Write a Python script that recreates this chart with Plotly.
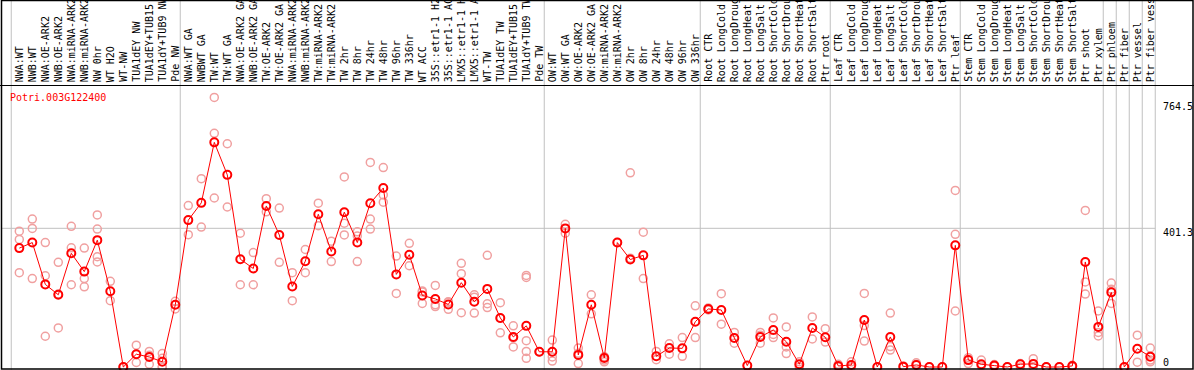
import plotly.graph_objects as go

categories = [
    "NWA:WT", "NWB:WT", "NWA:OE-ARK2", "NWB:OE-ARK2", "NWA:miRNA-ARK2", "NWB:miRNA-ARK2",
    "NW 0hr", "WT H2O", "WT-NW", "TUA1dEY NW", "TUA1dEY+TUB15", "TUA1dY+TUB9 NW", "Pde NW",
    "NWA:WT GA", "NWBWT GA", "TW:WT", "TW:WT GA", "NWA:OE-ARK2 GA", "NWB:OE-ARK2 GA",
    "TW:OE-ARK2", "TW:OE-ARK2 GA", "NWA:miRNA-ARK2", "NWB:miRNA-ARK2", "TW:miRNA-ARK2",
    "TW:miRNA-ARK2", "TW 2hr", "TW 8hr", "TW 24hr", "TW 48hr", "TW 96hr", "TW 336hr",
    "WT ACC", "35S::etr1-1 H2", "35S::etr1-1 AC", "LMX5::etr1-1 H", "LMX5::etr1-1 A",
    "WT-TW", "TUA1dEY TW", "TUA1dEY+TUB15", "TUA1dY+TUB9 TW", "Pde TW",
    "OW:WT", "OW:WT GA", "OW:OE-ARK2", "OW:OE-ARK2 GA", "OW:miRNA-ARK2", "OW:miRNA-ARK2",
    "OW 2hr", "OW 8hr", "OW 24hr", "OW 48hr", "OW 96hr", "OW 336hr",
    "Root CTR", "Root LongCold", "Root LongDroug", "Root LongHeat", "Root LongSalt",
    "Root ShortCold", "Root ShortDrou", "Root ShortHeat", "Root ShortSalt", "Ptr root",
    "Leaf CTR", "Leaf LongCold", "Leaf LongDroug", "Leaf LongHeat", "Leaf LongSalt",
    "Leaf ShortCold", "Leaf ShortDrou", "Leaf ShortHeat", "Leaf ShortSalt", "Ptr leaf",
    "Stem CTR", "Stem LongCold", "Stem LongDroug", "Stem LongHeat", "Stem LongSalt",
    "Stem ShortCold", "Stem ShortDrou", "Stem ShortHeat", "Stem ShortSalt",
    "Ptr shoot", "Ptr xylem", "Ptr phloem", "Ptr fiber", "Ptr vessel", "Ptr fiber vess",
]

means = [
    344, 360, 239, 209, 329, 276, 367, 219, 0, 37,
    29, 15, 180, 425, 475, 650, 556, 312, 285, 466,
    382, 233, 306, 442, 334, 448, 360, 474, 518, 268,
    325, 207, 197, 181, 244, 189, 226, 142, 87, 119,
    44, 44, 401, 35, 180, 26, 360, 311, 323, 31,
    55, 54, 131, 168, 165, 84, 4, 87, 107, 73,
    8, 113, 86, 3, 6, 136, 0, 87, 1, 6,
    0, 0, 352, 20, 8, 4, 0, 8, 9, 0,
    0, 3, 304, 116, 216, 0, 53, 30,
]

replicates = [
    [393, 369, 273], [428, 401, 256], [360, 264, 89], [303, 113, 211], [407, 345, 238],
    [344, 256, 232], [440, 399, 319, 304], [248, 192], [0, 0], [63, 13, 37],
    [45, 8, 34], [39, 25, 0, 0], [190, 168], [467, 383], [545, 405],
    [780, 676, 489], [646, 463], [387, 238], [331, 238], [487, 449],
    [460, 303], [273, 192], [340, 273], [474, 409], [364, 305],
    [550, 416, 382], [391, 379, 305], [592, 428, 399], [577, 498, 477], [321, 213],
    [358, 293], [217, 184, 220], [236, 180, 175], [187, 167, 189], [300, 270, 157],
    [209, 156, 202], [323, 183, 172], [186, 99, 141], [119, 58, 84], [265, 259, 76, 45, 25],
    [44, 44], [78, 29, 17], [413, 387], [55, 10, 40], [209, 154],
    [20, 15, 30], [360], [562, 315], [390, 256], [45, 21],
    [67, 37], [85, 31], [177, 85], [171, 165], [212, 124],
    [100, 69], [4], [92, 69, 100], [142, 85, 94], [116, 58, 39],
    [15, 0], [145, 81], [111, 72], [8, 0], [15, 0],
    [213, 75, 120], [0], [156, 59, 49], [3, 0], [12, 8],
    [0], [0], [511, 384, 162], [27, 10, 22], [20, 3],
    [7, 2], [0], [10, 0], [24, 0], [0],
    [0], [5, 0], [453, 246, 211], [162, 100, 90], [243, 225, 184],
    [0], [92, 14], [55, 15, 20],
]

# index of last category in each group (group separators drawn after these)
group_ends = [-1, 12, 40, 52, 62, 72, 83, 84, 85, 86, 87]

y_ticks = [764.5, 401.3, 0]
y_tick_labels = ["764.5", "401.3", "0"]
gene_name = "Potri.003G122400"

W, H = 1194, 370
PX_PER_CAT = 13.0
X0_PX = 19.3
ZERO_PX = 367.0
PX_PER_UNIT = 0.3456

x_range = [-X0_PX / PX_PER_CAT, (W - X0_PX) / PX_PER_CAT]
y_range = [-(H - ZERO_PX) / PX_PER_UNIT, ZERO_PX / PX_PER_UNIT]

def px(xp):
    return xp / W

def py(yp):
    return 1 - yp / H

MONO = "DejaVu Sans Mono"

rep_x, rep_y = [], []
for i, reps in enumerate(replicates):
    for v in reps:
        rep_x.append(i)
        rep_y.append(v)

fig = go.Figure()
fig.add_trace(go.Scatter(
    x=rep_x, y=rep_y, mode="markers",
    marker=dict(symbol="circle-open", size=8, color="#f0a0a0", line=dict(width=1.5, color="#f0a0a0")),
    hoverinfo="skip",
))
fig.add_trace(go.Scatter(
    x=list(range(len(means))), y=means, mode="lines+markers",
    line=dict(color="#ff0000", width=1),
    marker=dict(symbol="circle-open", size=8, color="#ff0000", line=dict(width=2, color="#ff0000")),
    hoverinfo="skip",
))

shapes = []
for g in group_ends:
    xv = g + 0.38
    shapes.append(dict(type="line", xref="x", yref="paper", x0=xv, x1=xv, y0=0, y1=1,
                       line=dict(color="#c0c0c0", width=1), layer="below"))
x_right = group_ends[-1] + 0.38
shapes.append(dict(type="line", xref="x", yref="y",
                   x0=x_range[0] + 1.7 / PX_PER_CAT, x1=x_right,
                   y0=y_ticks[1], y1=y_ticks[1],
                   line=dict(color="#c0c0c0", width=1), layer="below"))
shapes.append(dict(type="rect", xref="paper", yref="paper", x0=px(1.5), x1=px(1193), y0=py(369), y1=py(0.5),
                   line=dict(color="black", width=1.5)))
shapes.append(dict(type="line", xref="paper", yref="paper", x0=0, x1=1, y0=py(85.5), y1=py(85.5),
                   line=dict(color="black", width=1.2)))

annotations = []
for i, name in enumerate(categories):
    annotations.append(dict(x=i, xref="x", y=py(84), yref="paper", text=name, textangle=-90,
                            xanchor="center", yanchor="bottom", showarrow=False,
                            font=dict(family=MONO, size=10, color="black")))
annotations.append(dict(x=px(8), xref="paper", y=py(97), yref="paper", text=gene_name,
                        xanchor="left", yanchor="middle", showarrow=False,
                        font=dict(family=MONO, size=10, color="#ff0000")))
shifts = [-4, -4, 5]
for v, lab, s in zip(y_ticks, y_tick_labels, shifts):
    annotations.append(dict(x=px(1161), xref="paper", y=v, yref="y", text=lab, yshift=s,
                            xanchor="left", yanchor="middle", showarrow=False,
                            font=dict(family=MONO, size=10, color="black")))

fig.update_layout(
    width=W, height=H, margin=dict(l=0, r=0, t=0, b=0),
    paper_bgcolor="white", plot_bgcolor="white", showlegend=False,
    xaxis=dict(range=x_range, visible=False, fixedrange=True),
    yaxis=dict(range=y_range, visible=False, fixedrange=True),
    shapes=shapes, annotations=annotations,
)
fig.write_html(
    "out.html",
    config={"displayModeBar": False},
    post_script="document.body.style.margin='0';document.body.style.padding='0';document.body.style.overflow='hidden';",
)
